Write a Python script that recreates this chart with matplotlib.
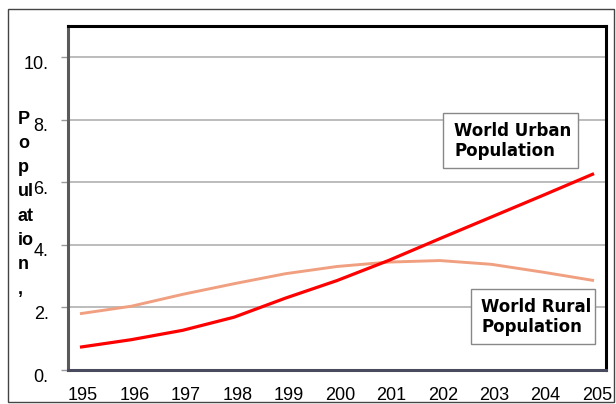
import matplotlib
matplotlib.use("Agg")
import matplotlib.pyplot as plt
from matplotlib.patches import Rectangle
from matplotlib.transforms import ScaledTranslation

plt.rcParams['font.family'] = ['Liberation Sans', 'DejaVu Sans']

# data (billions)
years = [1950, 1960, 1970, 1980, 1990, 2000, 2010, 2020, 2030, 2040, 2050]
urban = [0.73, 0.97, 1.27, 1.69, 2.30, 2.86, 3.50, 4.20, 4.89, 5.58, 6.28]
rural = [1.80, 2.04, 2.42, 2.76, 3.08, 3.31, 3.45, 3.50, 3.38, 3.13, 2.86]
xtick_labels = ["195", "196", "197", "198", "199", "200", "201", "202", "203", "204", "205"]
yticks = [0, 2, 4, 6, 8, 10]
ytick_labels = ["0.", "2.", "4.", "6.", "8.", "10."]
ylabel_parts = ["P", "o", "p", "ul", "at", "io", "n", ","]
urban_label = ["World Urban", "Population"]
rural_label = ["World Rural", "Population"]

W, H = 616, 404
fig = plt.figure(figsize=(W / 100, H / 100), dpi=100)
ax = fig.add_axes([68 / W, 1 - 370 / H, (606 - 68) / W, (370 - 26) / H])

ax.plot(years, rural, color='#F0A080', lw=2.1, solid_capstyle='butt', zorder=3)
ax.plot(years, urban, color='#FF0000', lw=2.3, solid_capstyle='butt', zorder=4)

ax.set_xlim(1947.67, 2052.33)
ax.set_ylim(0, 11)
ax.set_yticks(yticks)
ax.set_yticklabels(ytick_labels, fontsize=13)
ax.set_xticks(years)
ax.set_xticklabels(xtick_labels, fontsize=13)
ax.tick_params(axis='x', length=0, pad=12)
ax.tick_params(axis='y', length=5, width=1, color='#999999', pad=9)
for lab in ax.get_yticklabels():
    lab.set_transform(lab.get_transform() + ScaledTranslation(0, -0.05, fig.dpi_scale_trans))
for lab in ax.get_xticklabels():
    lab.set_transform(lab.get_transform() + ScaledTranslation(0.03, 0, fig.dpi_scale_trans))

ax.grid(axis='y', color='#b0b0b0', lw=1.2, zorder=1)
ax.set_axisbelow(True)

ax.spines['top'].set_color('black')
ax.spines['right'].set_color('black')
ax.spines['left'].set_color('#5a5a5a')
ax.spines['bottom'].set_color('#4a4a5e')
for s in ax.spines.values():
    s.set_linewidth(2.2)

# vertical y label, stacked
for i, s in enumerate(ylabel_parts):
    fig.text(18 / W, 1 - (119 + 24.3 * i) / H, s, fontsize=13, fontweight='bold',
             ha='left', va='center')


def label_box(x0, y0, x1, y1, tx, lines):
    # box and text in pixel coords of the figure
    fig.patches.append(Rectangle((x0 / W, 1 - y1 / H), (x1 - x0) / W, (y1 - y0) / H,
                                 transform=fig.transFigure, facecolor='white',
                                 edgecolor='#888888', lw=1, zorder=5))
    cy = (y0 + y1) / 2
    for j, s in enumerate(lines):
        fig.text(tx / W, 1 - (cy - 10 + 20 * j) / H, s, fontsize=12, fontweight='bold',
                 family='DejaVu Sans', ha='left', va='center', zorder=6)


label_box(443, 113, 578, 168, 454, urban_label)
label_box(471, 289, 595, 344, 481, rural_label)

# outer frame
fig.patches.append(Rectangle((8 / W, 1 - 402 / H), (614 - 8) / W, (402 - 9) / H,
                             transform=fig.transFigure, fill=False, edgecolor='#444444', lw=1))

fig.savefig("out.png", dpi=100)
